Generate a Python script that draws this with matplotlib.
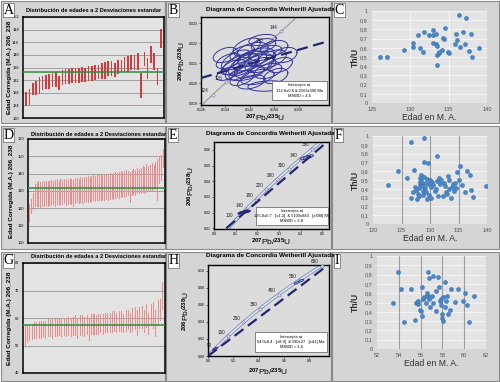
import numpy as np
import matplotlib.pyplot as plt
from matplotlib.patches import Rectangle

plt.rcParams['font.family'] = ['Liberation Sans', 'DejaVu Sans']
plt.rcParams['mathtext.fontset'] = 'custom'
plt.rcParams['mathtext.rm'] = 'Liberation Sans'
plt.rcParams['mathtext.bf'] = 'Liberation Sans:bold'
plt.rcParams['mathtext.default'] = 'bf'

##### DATA #####
# A - 2 sigma age bars (Ma)
a_lo = [123.9, 124.0, 127.2, 127.2, 127.7, 128.8, 129.3, 129.3, 129.9, 129.7, 128.8, 130.4, 130.7, 130.9,
        131.2, 131.2, 131.2, 131.5, 131.5, 131.8, 131.8, 132.0, 132.2, 132.5, 132.3, 133.3, 133.3, 133.1,
        133.9, 134.7, 134.7, 134.7, 135.2, 135.2, 135.2, 126.4, 136.5, 132.5, 137.3, 135.2, 130.4, 142.1]
a_hi = [128.3, 129.3, 131.2, 131.7, 132.9, 133.3, 133.5, 133.9, 134.3, 134.7, 133.3, 135.2, 135.5, 135.5,
        135.9, 135.9, 135.7, 136.3, 136.0, 136.5, 136.5, 136.9, 136.8, 137.5, 137.9, 138.1, 138.2, 137.3,
        138.4, 138.4, 139.2, 139.5, 140.0, 140.0, 140.5, 134.1, 141.0, 138.9, 142.9, 140.5, 135.7, 148.2]
a_mean = 134.6

# D - 2 sigma age bars (Ma)
d_lo = [111.5, 116.5, 119.0, 120.5, 120.5, 121.0, 120.0, 121.0, 121.0, 121.5, 120.5, 121.5, 121.5, 122.0,
        121.0, 122.0, 121.5, 122.0, 122.0, 122.5, 121.5, 122.0, 122.5, 122.0, 120.5, 122.5, 123.0, 122.5,
        123.0, 122.5, 123.0, 123.5, 123.0, 123.5, 123.0, 124.0, 123.5, 124.0, 124.5, 124.0, 124.5, 124.0,
        125.0, 124.5, 125.0, 125.5, 125.0, 125.5, 126.0, 125.5, 126.0, 126.5, 126.0, 126.5, 127.0, 123.0,
        127.0, 127.5, 127.0, 128.0, 128.0, 128.5, 129.0, 128.5, 129.0, 129.5, 130.0, 130.0, 130.5, 131.0,
        124.0, 134.0, 136.0, 143.0]
d_hi = [122.5, 125.5, 129.0, 134.0, 135.0, 135.5, 135.0, 135.5, 136.0, 136.0, 135.5, 136.0, 136.5, 136.0,
        136.5, 137.0, 136.0, 137.0, 136.5, 137.0, 137.0, 136.5, 137.5, 137.0, 136.5, 137.5, 137.5, 137.0,
        138.0, 137.5, 138.0, 138.0, 138.5, 138.0, 138.5, 139.0, 138.5, 139.0, 139.0, 139.5, 139.5, 140.0,
        139.5, 140.0, 140.5, 140.0, 140.5, 141.0, 140.5, 141.0, 141.5, 141.0, 141.5, 142.0, 141.5, 141.0,
        142.0, 142.5, 142.0, 143.0, 142.5, 143.0, 144.5, 144.0, 145.5, 144.5, 145.0, 146.0, 145.0, 147.0,
        148.5, 150.0, 150.5, 154.0]
d_mean = 131.8

# G - 2 sigma age bars (Ma)
g_lo = [50.0, 51.0, 51.5, 52.0, 52.5, 52.5, 52.5, 52.5, 53.0, 52.5, 53.0, 53.0, 52.5, 53.0, 53.0, 53.5,
        53.0, 53.5, 53.0, 53.5, 53.0, 53.5, 53.5, 52.5, 53.5, 53.5, 53.0, 54.0, 51.5, 54.0, 54.0, 54.0,
        54.0, 54.5, 54.0, 54.5, 54.5, 54.5, 54.5, 55.0, 54.5, 55.0, 55.0, 54.5, 55.0, 55.5, 54.5, 55.0,
        55.5, 53.5, 56.0, 56.0, 54.5, 56.5, 54.0, 57.0, 56.0, 53.0, 57.0, 59.0, 63.0]
g_hi = [57.0, 57.0, 57.5, 58.0, 58.5, 58.5, 59.0, 59.0, 59.0, 59.0, 59.5, 59.5, 59.5, 59.5, 60.0, 59.5,
        60.0, 60.0, 60.0, 60.5, 60.0, 60.5, 61.0, 60.0, 61.0, 61.0, 60.5, 61.0, 59.5, 61.5, 61.5, 61.0,
        61.5, 61.5, 61.5, 62.0, 62.0, 62.0, 62.5, 62.5, 62.0, 62.5, 62.5, 61.5, 63.0, 63.0, 62.0, 63.5,
        64.0, 63.0, 64.0, 64.5, 63.0, 65.0, 62.0, 65.0, 66.0, 63.0, 66.5, 67.0, 73.0]
g_mean = 57.5

# B - error ellipses (207Pb/235U, 206Pb/238U, half widths, correlation)
b_cx = [0.1478, 0.1462, 0.1420, 0.1440, 0.1400, 0.1455, 0.1385, 0.1410, 0.1365, 0.1345, 0.1430, 0.1470,
        0.1490, 0.1395, 0.1500, 0.1445, 0.1375, 0.1520, 0.1425, 0.1350, 0.1465, 0.1410, 0.1395, 0.1480,
        0.1435, 0.1460, 0.1505, 0.1390, 0.1535, 0.1340]
b_cy = [0.01985, 0.02215, 0.02110, 0.02130, 0.02090, 0.02090, 0.02060, 0.02050, 0.02080, 0.02045, 0.02165,
        0.02150, 0.02120, 0.02150, 0.02175, 0.02030, 0.02115, 0.02090, 0.02005, 0.02110, 0.02190, 0.02180,
        0.02025, 0.02060, 0.02085, 0.02120, 0.02035, 0.02095, 0.02140, 0.02140]
b_sx = [0.0064, 0.0045, 0.0055, 0.0060, 0.0050, 0.0050, 0.0045, 0.0058, 0.0040, 0.0035, 0.0050, 0.0055,
        0.0050, 0.0040, 0.0045, 0.0055, 0.0048, 0.0040, 0.0045, 0.0040, 0.0040, 0.0045, 0.0040, 0.0045,
        0.0065, 0.0045, 0.0040, 0.0060, 0.0040, 0.0040]
b_sy = [0.00026, 0.00028, 0.00050, 0.00045, 0.00055, 0.00038, 0.00045, 0.00038, 0.00038, 0.00032, 0.00038,
        0.00038, 0.00045, 0.00038, 0.00038, 0.00038, 0.00050, 0.00038, 0.00035, 0.00038, 0.00032, 0.00045,
        0.00038, 0.00038, 0.00060, 0.00038, 0.00038, 0.00055, 0.00038, 0.00038]
b_rho = [0.2, 0.3, 0.5, 0.5, 0.6, 0.4, 0.5, 0.5, 0.6, 0.5, 0.4, 0.5, 0.5, 0.5, 0.3, 0.4, 0.6, 0.4, 0.4,
         0.5, 0.3, 0.5, 0.5, 0.4, 0.6, 0.5, 0.4, 0.6, 0.3, 0.4]
b_ages = [124, 128, 140, 144]
b_disc = ([0.126, 0.168], [0.02025, 0.0221])
b_text = "Intercepts at\n132.8±0.8 & 2563±500 Ma\nMSWD = 4.6"

# E - ellipses
e_cx = [0.122, 0.130, 0.137, 0.143, 0.150, 0.157, 0.134, 0.146, 0.415, 0.430, 0.442]
e_cy = [0.0198, 0.0201, 0.0203, 0.0204, 0.0205, 0.0207, 0.0199, 0.0209, 0.0548, 0.0553, 0.0558]
e_sx = [0.012, 0.011, 0.012, 0.010, 0.012, 0.011, 0.010, 0.011, 0.017, 0.018, 0.016]
e_sy = [0.0009, 0.0008, 0.0009, 0.0008, 0.0008, 0.0008, 0.0007, 0.0008, 0.0011, 0.0012, 0.0011]
e_fill = ['#1f2a80'] * 8 + ['#b4c0e4'] * 3
e_ages = [100, 140, 180, 220, 260, 300, 340, 380]
e_disc = ([0.057, 0.53], [0.010, 0.0661])
e_text = "Intercepts at\n125.8±0.7   [±1.2]  & 5100±880   [±890] Ma\nMSWD = 3.8"

# H - ellipses
h_cx = [0.050, 0.058, 0.066, 0.700, 0.735]
h_cy = [0.0080, 0.0086, 0.0092, 0.0860, 0.0885]
h_sx = [0.014, 0.014, 0.013, 0.020, 0.020]
h_sy = [0.0014, 0.0014, 0.0013, 0.0016, 0.0016]
h_fill = ['#b4c0e4'] * 5
h_ages = [50, 150, 250, 350, 450, 550, 650]
h_disc = ([0.0, 0.955], [0.0, 0.1078])
h_text = "Intercepts at\n54.0±8.4   [±8.9]  & 590±27   [±41] Ma\nMSWD = 1.6"

# C - Th/U vs age
c_age = [126.0, 126.9, 129.2, 130.3, 130.3, 131.0, 131.2, 131.6, 131.8, 132.4, 132.9, 132.9, 132.9, 133.4,
         133.3, 133.5, 133.5, 133.5, 133.7, 133.8, 134.1, 134.3, 134.4, 134.5, 134.9, 135.1, 135.8, 135.9,
         136.1, 136.3, 136.5, 136.9, 137.1, 137.3, 137.7, 137.9, 138.1, 138.9]
c_thu = [0.50, 0.50, 0.58, 0.65, 0.61, 0.74, 0.60, 0.55, 0.77, 0.74, 0.74, 0.79, 0.65, 0.755,
         0.64, 0.62, 0.52, 0.41, 0.54, 0.55, 0.58, 0.71, 0.70, 0.81, 0.55, 0.54, 0.64, 0.755,
         0.68, 0.96, 0.61, 0.77, 0.64, 0.92, 0.57, 0.755, 0.50, 0.60]

# F - Th/U vs age
f_age = [122.6, 124.3, 126.0, 126.7, 127.2, 126.7, 127.0, 127.4, 127.6, 127.9, 128.0, 128.2, 128.3, 128.4,
         128.5, 128.6, 128.6, 128.7, 128.8, 128.9, 129.0, 129.0, 129.1, 129.2, 129.3, 129.4, 129.5, 129.6,
         129.6, 129.8, 130.0, 130.1, 130.2, 130.4, 130.6, 130.8, 131.0, 131.2, 131.3, 131.4, 131.6, 131.8,
         132.0, 132.2, 132.4, 132.6, 132.8, 133.0, 133.2, 133.3, 133.4, 133.6, 133.8, 134.0, 134.2, 134.4,
         134.6, 134.8, 135.0, 135.2, 135.6, 136.2, 136.5, 137.0, 137.2, 137.6, 139.8, 128.0, 127.8, 128.3]
f_thu = [0.44, 0.60, 0.52, 0.93, 0.61, 0.30, 0.36, 0.42, 0.39, 0.34, 0.32, 0.45, 0.48, 0.56,
         0.50, 0.46, 0.43, 0.38, 0.33, 0.98, 0.53, 0.70, 0.47, 0.41, 0.36, 0.28, 0.51, 0.45,
         0.69, 0.33, 0.50, 0.42, 0.30, 0.48, 0.44, 0.37, 0.40, 0.49, 0.77, 0.32, 0.52, 0.46,
         0.50, 0.32, 0.47, 0.43, 0.36, 0.34, 0.54, 0.50, 0.40, 0.30, 0.42, 0.45, 0.38, 0.47,
         0.41, 0.59, 0.50, 0.66, 0.44, 0.36, 0.60, 0.56, 0.39, 0.31, 0.43, 0.41, 0.28, 0.52]

# I - Th/U vs age
i_age = [53.5, 53.9, 54.2, 54.5, 55.1, 55.5, 55.6, 55.7, 55.8, 55.8, 55.9, 56.0, 56.1, 56.1, 56.2, 56.3,
         56.5, 56.6, 56.6, 56.7, 56.8, 56.8, 56.9, 56.9, 57.0, 57.1, 57.1, 57.4, 57.4, 57.6, 57.7, 57.8,
         57.9, 57.9, 58.0, 58.0, 58.1, 58.1, 58.2, 58.2, 58.3, 58.4, 58.5, 58.7, 58.8, 59.2, 59.4, 59.9,
         60.1, 60.3, 60.4, 60.9]
i_thu = [0.49, 0.83, 0.65, 0.29, 0.65, 0.31, 0.50, 0.51, 0.48, 0.52, 0.42, 0.41, 0.35, 0.67, 0.54, 0.56,
         0.49, 0.57, 0.60, 0.83, 0.76, 0.54, 0.56, 0.45, 0.57, 0.79, 0.49, 0.41, 0.62, 0.77, 0.67, 0.52,
         0.47, 0.54, 0.38, 0.33, 0.56, 0.30, 0.72, 0.45, 0.52, 0.57, 0.38, 0.42, 0.64, 0.51, 0.64, 0.52,
         0.60, 0.47, 0.29, 0.57]

##### HELPERS #####
W, H = 500, 382
L238, L235 = 1.55125e-10, 9.8485e-10
fig = plt.figure(figsize=(5, 3.82), dpi=100)


def box(x0, y0, x1, y1):
    # pixel rect (top-left origin) -> figure coords
    return [x0 / W, 1 - y1 / H, (x1 - x0) / W, (y1 - y0) / H]


def ftext(x, y, s, **kw):
    return fig.text(x / W, 1 - y / H, s, **kw)


def conc(t):
    t = np.asarray(t, dtype=float) * 1e6
    return np.exp(L235 * t) - 1, np.exp(L238 * t) - 1


##### PANEL FRAMES #####
panels = {'A': (1, 1, 165, 123), 'B': (166, 1, 331, 123), 'C': (332, 1, 499, 123),
          'D': (1, 126, 165, 249), 'E': (166, 126, 331, 249), 'F': (332, 126, 499, 249),
          'G': (1, 252, 165, 381), 'H': (166, 252, 331, 381), 'I': (332, 252, 499, 381)}
for key, (x0, y0, x1, y1) in panels.items():
    fig.add_artist(Rectangle((x0 / W, 1 - y1 / H), (x1 - x0) / W, (y1 - y0) / H, transform=fig.transFigure,
                             facecolor='#d5d5d5', edgecolor='#8a8a8a', lw=0.8, zorder=0))
    ftext(x0 + 2.5, y0 + 9, key, fontsize=10, family='Liberation Serif', va='center', ha='left', zorder=5,
          bbox=dict(facecolor='white', edgecolor='#606060', lw=0.5, pad=0.6))


##### A / D / G : age distributions #####
def bar_panel(rect, lo, hi, mean, ylim, yticks, color, width, title_xy, ylab_x):
    ax = fig.add_axes(box(*rect))
    ax.set_facecolor('#e3e3e3')
    lo, hi = np.array(lo), np.array(hi)
    ax.bar(np.arange(len(lo)), hi - lo, bottom=lo, width=width, color=color, zorder=3)
    ax.axhline(mean, color='#2e8b3e', lw=1.1, zorder=4)
    ax.set_xlim(-1, len(lo))
    ax.set_ylim(ylim)
    ax.set_yticks(yticks)
    ax.set_xticks([])
    ax.grid(axis='y', color='#a0a0a0', lw=0.7)
    ax.set_axisbelow(True)
    ax.tick_params(axis='y', labelsize=2.8, length=0, pad=3)
    for s in ax.spines.values():
        s.set_linewidth(1.1)
    ftext(title_xy[0], title_xy[1], 'Distribución de edades a 2 Desviaciones estandar', fontsize=4.1,
          fontweight='bold', ha='center', va='center')
    ftext(ylab_x, (rect[1] + rect[3]) / 2, 'Edad Corregida (M.A.) 206_238', fontsize=4.6, fontweight='bold',
          rotation=90, ha='center', va='center')
    return ax


bar_panel((23, 17, 164, 118), a_lo, a_hi, a_mean, (120, 152), range(120, 153, 4), '#d23c3c', 0.5,
          (94, 11), 10)
bar_panel((28, 139, 165, 243), d_lo, d_hi, d_mean, (100, 160), range(100, 161, 10), '#e98e8e', 0.55,
          (99, 134), 12)
bar_panel((23, 263, 165, 373), g_lo, g_hi, g_mean, (40, 80), range(40, 81, 10), '#e98e8e', 0.45,
          (99, 257), 10)


##### B / E / H : Wetherill concordia #####
def conc_panel(rect, xlim, ylim, xticks, yticks, xfmt, yfmt, cx, cy, sx, sy, rho, fills, ages, tmax,
               disc, itext, ibox, band, title_y, ylab_x, xlab_y, lab_off):
    ax = fig.add_axes(box(*rect))
    ax.set_facecolor('#dcdcdc')
    t = np.linspace(0, tmax, 400)
    cxl, cyl = conc(t)
    if band:
        ax.plot(cxl, cyl, color='#7d8db8', lw=2.4, zorder=2)
        ax.plot(cxl, cyl, color='#e3e7f2', lw=1.2, zorder=2)
    else:
        ax.plot(cxl, cyl, color='#9a9a9a', lw=0.8, zorder=2)
    ax_, ay_ = conc(ages)
    ax.plot(ax_, ay_, 'o', ms=2.2, mfc='#e8e8f4', mec='#6a6a9a', mew=0.4, zorder=3)
    for a, px, py in zip(ages, ax_, ay_):
        ax.annotate(str(a), (px, py), xytext=lab_off, textcoords='offset points', fontsize=3.3,
                    ha='right', va='bottom', color='#202020', zorder=6)
    th = np.linspace(0, 2 * np.pi, 80)
    for x0, y0, a, b, r, fc in zip(cx, cy, sx, sy, rho, fills):
        ex = x0 + a * np.cos(th)
        ey = y0 + b * (r * np.cos(th) + np.sqrt(1 - r ** 2) * np.sin(th))
        if fc is None:
            ax.plot(ex, ey, color='#3434a0', lw=0.7, zorder=4)
        else:
            ax.fill(ex, ey, facecolor=fc, edgecolor='#26308c', lw=0.6, zorder=4)
    ax.plot(disc[0], disc[1], color='#25276e', lw=1.6, dashes=(5, 2.5), zorder=5)
    ax.set_xlim(xlim)
    ax.set_ylim(ylim)
    ax.set_xticks(xticks)
    ax.set_yticks(yticks)
    ax.set_xticklabels([xfmt % v for v in xticks])
    ax.set_yticklabels([yfmt % v for v in yticks])
    ax.tick_params(labelsize=2.6, length=1.5, width=0.4, pad=1.0)
    for s in ax.spines.values():
        s.set_linewidth(1.0)
    bx0, by0, bx1, by1 = ibox
    fig.add_artist(Rectangle((bx0 / W, 1 - by1 / H), (bx1 - bx0) / W, (by1 - by0) / H,
                             transform=fig.transFigure, facecolor='white', edgecolor='#707070', lw=0.6,
                             zorder=6))
    ftext((bx0 + bx1) / 2, (by0 + by1) / 2, itext, fontsize=2.9, ha='center', va='center',
          linespacing=1.4, zorder=7)
    ftext(270, title_y, 'Diagrama de Concordia Wetherill Ajustada', fontsize=4.6, fontweight='bold',
          ha='center', va='center')
    ftext(ylab_x, (rect[1] + rect[3]) / 2, r'$^{206}$Pb/$^{238}$U', fontsize=6.0, rotation=90,
          ha='center', va='center')
    ftext((rect[0] + rect[2]) / 2, xlab_y, r'$^{207}$Pb/$^{235}$U', fontsize=6.0, ha='center', va='center')
    return ax


conc_panel((201, 17, 329, 105), (0.126, 0.168), (0.0189, 0.0233), [0.126, 0.134, 0.142, 0.150, 0.158],
           [0.019, 0.020, 0.021, 0.022, 0.023], '%.3f', '%.3f', b_cx, b_cy, b_sx, b_sy, b_rho,
           [None] * len(b_cx), b_ages, 160, b_disc, b_text, (272, 81, 327, 100), False, 10, 182, 118.5,
           (-3, 1))
conc_panel((214, 142, 329, 229), (0.0, 0.53), (0.0095, 0.065), [0.0, 0.1, 0.2, 0.3, 0.4, 0.5],
           [0.01, 0.02, 0.03, 0.04, 0.05, 0.06], '%.1f', '%.2f', e_cx, e_cy, e_sx, e_sy,
           [0.6] * len(e_cx), e_fill, e_ages, 420, e_disc, e_text, (256, 207, 328, 225), True, 134, 191, 242.5,
           (-2, 1))
conc_panel((208, 265, 329, 356), (0.0, 0.955), (0.0, 0.107), [0.0, 0.2, 0.4, 0.6, 0.8],
           [0.0, 0.02, 0.04, 0.06, 0.08, 0.10], '%.1f', '%.2f', h_cx, h_cy, h_sx, h_sy,
           [0.7] * len(h_cx), h_fill, h_ages, 700, h_disc, h_text, (255, 332, 327, 352), True, 256, 186, 372.5,
           (-2, 1))


##### C / F / I : Th/U vs age #####
def thu_panel(rect, age, thu, xlim, xticks, vgrid):
    ax = fig.add_axes(box(*rect))
    ax.set_facecolor('#e4e4e4')
    ax.scatter(age, thu, s=9, color='#4a86c8', edgecolors='#346fae', linewidths=0.3, zorder=3)
    ax.set_xlim(xlim)
    ax.set_ylim(0, 1)
    ax.set_xticks(xticks)
    yt = np.round(np.arange(0, 1.01, 0.1), 1)
    ax.set_yticks(yt)
    ax.set_yticklabels(['0' if v == 0 else ('1' if v == 1 else ('%.1f' % v).replace('.', ',')) for v in yt])
    ax.grid(axis='y', color='#f4f4f4', lw=0.7)
    for v in xticks[1:-1]:
        ax.axvline(v, color=vgrid, lw=0.8, zorder=1)
    ax.set_axisbelow(True)
    ax.tick_params(labelsize=4.0, length=0, pad=3, colors='#505050')
    for s in ax.spines.values():
        s.set_visible(False)
    ftext(355, (rect[1] + rect[3]) / 2, 'Th/U', fontsize=6.2, fontweight='bold', rotation=90,
          ha='center', va='center', color='#303030')
    ftext((rect[0] + rect[2]) / 2, rect[3] + 14, 'Edad en M. A.', fontsize=6.2, ha='center', va='center',
          color='#303030')
    return ax


thu_panel((372, 11, 487, 103), c_age, c_thu, (125, 140), [125, 130, 135, 140], '#f4f4f4')
thu_panel((373, 136, 487, 224), f_age, f_thu, (120, 140), [120, 125, 130, 135, 140], '#9c9c9c')
thu_panel((377, 256, 486, 349), i_age, i_thu, (52, 62), [52, 54, 56, 58, 60, 62], '#9c9c9c')

fig.savefig('out.png', dpi=100)
